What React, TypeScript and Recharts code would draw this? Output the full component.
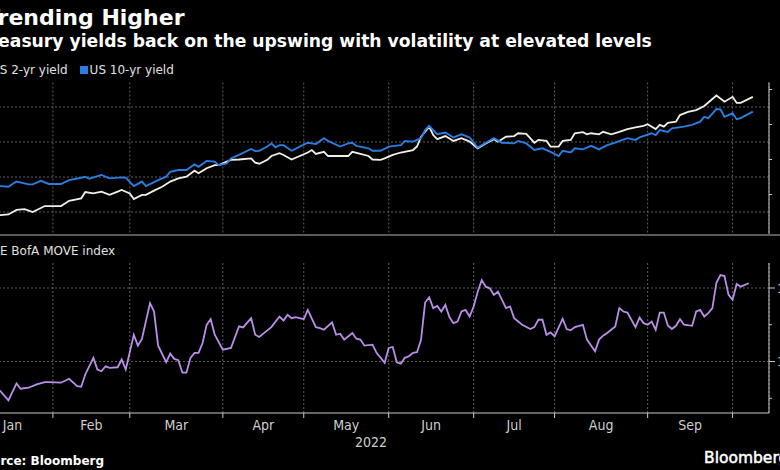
import React from "react";
import { LineChart, Line, XAxis, YAxis, CartesianGrid, ReferenceLine } from "recharts";

// x values are trading sessions counted from 3 Jan 2022
const monthStarts = [20, 39, 62, 82, 103, 124, 144, 167, 188];
const monthMids = [10, 29.5, 50.5, 72, 92.5, 113.5, 134, 155.5, 177.5];
const monthNames = ["Jan", "Feb", "Mar", "Apr", "May", "Jun", "Jul", "Aug", "Sep"];

const yieldTicks = [0.5, 1, 1.5, 2, 2.5, 3, 3.5, 4, 4.5];
const yieldLabels = [1, 2, 3, 4];
const moveTicks = [75, 100, 125, 150];
const moveLabels = [100, 150];

// [session, yield %]
const twoYr: [number, number][] = [
  [0, 0.78], [3, 0.86], [5, 0.88], [7, 0.91], [9, 0.93], [11, 1.06], [13, 1.08], [15, 1.0], [18, 1.17], [22, 1.17],
  [24, 1.32], [27, 1.39], [28, 1.57], [30, 1.53], [32, 1.58], [34, 1.49], [36, 1.58], [37, 1.63], [39, 1.53], [40, 1.37],
  [42, 1.49], [43, 1.49], [45, 1.61], [47, 1.72], [49, 1.87], [51, 1.96], [53, 2.01], [55, 2.18], [56, 2.11], [58, 2.25],
  [60, 2.34], [61, 2.34], [63, 2.44], [64, 2.49], [66, 2.5], [69, 2.53], [70, 2.41], [71, 2.38], [73, 2.49], [74, 2.6],
  [76, 2.68], [77, 2.63], [79, 2.5], [81, 2.6], [83, 2.7], [84, 2.77], [85, 2.66], [87, 2.72], [88, 2.6], [91, 2.6],
  [93, 2.6], [94, 2.72], [96, 2.66], [98, 2.6], [99, 2.5], [101, 2.49], [102, 2.53], [104, 2.63], [106, 2.7], [109, 2.77],
  [110, 2.87], [111, 3.15], [113, 3.44], [114, 3.2], [115, 3.08], [117, 3.17], [119, 3.03], [121, 3.11], [123, 3.01], [125, 2.82],
  [127, 2.96], [129, 3.08], [130, 3.01], [132, 3.15], [134, 3.17], [135, 3.25], [137, 3.23], [139, 2.98], [140, 3.06], [142, 3.03],
  [143, 2.87], [145, 2.87], [146, 3.03], [148, 3.06], [149, 3.25], [151, 3.28], [152, 3.22], [153, 3.25], [155, 3.22], [156, 3.29],
  [158, 3.22], [160, 3.29], [162, 3.37], [164, 3.42], [166, 3.46], [167, 3.51], [169, 3.37], [170, 3.49], [171, 3.44], [172, 3.55],
  [174, 3.58], [175, 3.77], [177, 3.86], [179, 3.91], [181, 4.03], [182, 4.13], [184, 4.33], [186, 4.15], [188, 4.29], [189, 4.12],
  [190, 4.12], [193, 4.29],
];

const tenYr: [number, number][] = [
  [0, 1.63], [3, 1.7], [5, 1.72], [7, 1.74], [9, 1.72], [11, 1.87], [14, 1.79], [15, 1.79], [17, 1.89], [19, 1.8],
  [22, 1.8], [24, 1.91], [27, 1.98], [28, 2.01], [29, 1.95], [32, 2.06], [34, 1.96], [37, 1.99], [38, 1.98], [40, 1.74],
  [42, 1.87], [43, 1.74], [46, 1.91], [48, 2.01], [49, 2.15], [51, 2.2], [53, 2.2], [55, 2.36], [56, 2.29], [58, 2.46],
  [60, 2.44], [61, 2.34], [63, 2.39], [64, 2.53], [66, 2.63], [69, 2.8], [70, 2.74], [71, 2.75], [73, 2.87], [74, 2.96],
  [75, 2.85], [76, 2.91], [77, 2.91], [79, 2.75], [81, 2.87], [83, 2.98], [85, 2.94], [87, 3.11], [88, 3.03], [91, 2.87],
  [93, 2.96], [94, 2.98], [95, 2.89], [98, 2.82], [99, 2.75], [101, 2.75], [103, 2.87], [106, 2.91], [107, 3.03], [109, 3.01],
  [111, 3.11], [112, 3.34], [113, 3.46], [114, 3.34], [115, 3.22], [117, 3.27], [119, 3.13], [121, 3.22], [123, 3.13], [125, 2.84],
  [127, 2.98], [129, 3.11], [131, 2.98], [134, 2.96], [135, 3.03], [137, 2.96], [139, 2.77], [141, 2.82], [143, 2.72], [145, 2.6],
  [146, 2.75], [148, 2.7], [149, 2.82], [151, 2.79], [153, 2.89], [155, 2.79], [157, 2.91], [159, 2.98], [162, 3.11], [164, 3.06],
  [165, 3.13], [168, 3.25], [169, 3.2], [170, 3.34], [172, 3.29], [173, 3.39], [176, 3.44], [178, 3.49], [180, 3.58], [181, 3.72],
  [182, 3.68], [184, 3.94], [185, 3.93], [186, 3.72], [188, 3.82], [189, 3.65], [190, 3.68], [193, 3.87],
];

// ICE BofA MOVE index
const move: [number, number][] = [
  [0, 78], [4, 82], [7, 79.9], [9, 73.6], [11, 85.1], [12, 81.5], [14, 82.2], [16, 84.5], [18, 86], [19, 86],
  [22, 85.6], [24, 88.3], [26, 83.3], [27, 82.9], [28, 91.2], [30, 102.5], [31, 94.6], [32, 93.4], [33, 96.8], [34, 95.7],
  [36, 96.1], [37, 101.4], [38, 94.6], [40, 118.2], [41, 110.8], [42, 115.3], [44, 139.7], [45, 134], [46, 110.8], [48, 99.5],
  [49, 105.4], [50, 101.8], [51, 100.9], [52, 92.4], [53, 92.4], [54, 102.5], [55, 105.9], [56, 105.9], [57, 112.6], [58, 125],
  [59, 128.8], [60, 118.2], [62, 108.1], [64, 109.2], [66, 123.9], [67, 123.2], [69, 129.5], [70, 118.2], [71, 116.7], [73, 121.2],
  [74, 123.4], [76, 130.6], [77, 127.9], [78, 131.8], [79, 129.5], [80, 130.2], [82, 128.8], [83, 135.1], [85, 123.4], [86, 122.7],
  [87, 121.6], [89, 126.6], [90, 118.2], [91, 118.9], [92, 114.9], [94, 119.4], [95, 115.5], [96, 114.9], [97, 110.8], [99, 111.5],
  [100, 105.9], [102, 99.1], [103, 109.2], [104, 109.9], [105, 99.5], [106, 98.6], [107, 102.5], [108, 103.6], [109, 105.9], [110, 106.3],
  [111, 114.9], [112, 140.1], [113, 143.7], [114, 136.3], [115, 137.8], [116, 134], [117, 138.5], [118, 130.2], [119, 126.1], [120, 127.2],
  [121, 134], [122, 135.1], [123, 130.6], [124, 137.4], [125, 147.5], [126, 155.4], [127, 150.9], [128, 149.8], [129, 145.3], [130, 147.5],
  [132, 136.3], [133, 137.4], [134, 129.5], [136, 125], [138, 122.1], [139, 123.4], [140, 128.4], [141, 128.4], [142, 118.2], [143, 119.8],
  [144, 117.1], [146, 129.1], [147, 122.1], [148, 121.2], [149, 123.4], [151, 125], [152, 114.9], [154, 107], [155, 114.9], [156, 117.6],
  [157, 119.4], [159, 123.9], [160, 136.3], [161, 134], [162, 133.3], [164, 123.4], [165, 129.9], [166, 126.1], [167, 125], [168, 127.2],
  [169, 121.6], [170, 133.3], [171, 133.3], [172, 124.5], [173, 122.1], [174, 124.3], [175, 128.8], [176, 125], [178, 124.3], [179, 134],
  [180, 135.1], [181, 130.6], [182, 132.9], [183, 136.3], [184, 153.6], [185, 158.8], [186, 158.1], [187, 145.3], [188, 141.9], [189, 152.7],
  [190, 150.9], [192, 153.2],
];

const toRows = (pts: [number, number][]) => pts.map(([t, v]) => ({ t, v }));

const GRID = "#5e5e5e";
const AXIS = "#c8c8c8";
const X_DOMAIN: [number, number] = [0, 197];
const CONDENSED = "'DejaVu Sans Condensed', 'DejaVu Sans', sans-serif";

function RightTick(props: any) {
  const { x, y, payload, labels } = props;
  const major = labels.includes(payload.value);
  return (
    <g>
      <line x1={x} x2={x + (major ? 6 : 3)} y1={y} y2={y} stroke={AXIS} strokeWidth={1} />
      {major && (
        <text x={x + 8} y={y + 4.5} fill="#d8d8d8" fontSize={13} fontFamily={CONDENSED}>
          {payload.value}
        </text>
      )}
    </g>
  );
}

const abs = (left: number, top: number, extra: React.CSSProperties = {}): React.CSSProperties => ({
  position: "absolute",
  left,
  top,
  whiteSpace: "nowrap",
  ...extra,
});

export default function App() {
  return (
    <div
      style={{
        position: "absolute",
        left: 0,
        top: 0,
        width: 780,
        height: 470,
        background: "#000",
        overflow: "hidden",
        fontFamily: "'DejaVu Sans', sans-serif",
        color: "#fff",
      }}
    >
      <div style={abs(-15, 7.4, { fontSize: 22, lineHeight: "22px", fontWeight: 700 })}>Trending Higher</div>
      <div style={abs(-20.2, 32.6, { fontSize: 17.2, lineHeight: "17.2px", fontWeight: 700 })}>
        Treasury yields back on the upswing with volatility at elevated levels
      </div>

      {/* legend */}
      <div style={abs(-19, 63.9, { fontSize: 12, lineHeight: "12px", color: "#e0e0e0", display: "flex", alignItems: "center" })}>
        <span style={{ width: 8, height: 8, background: "#f2efe6", marginRight: 2, display: "inline-block" }} />
        <span>US 2-yr yield</span>
        <span style={{ width: 8, height: 8, background: "#2a7de1", marginLeft: 12, marginRight: 2, display: "inline-block" }} />
        <span>US 10-yr yield</span>
      </div>

      {/* upper panel: yields */}
      <div style={abs(-60, 0)}>
        <LineChart width={869} height={235.75} margin={{ top: 82.5, right: 0, bottom: 0, left: 32 }}>
          <CartesianGrid horizontal={false} stroke={GRID} strokeDasharray="2 2" />
          <XAxis
            type="number"
            dataKey="t"
            domain={X_DOMAIN}
            ticks={monthStarts}
            allowDataOverflow
            tickFormatter={() => ""}
            tickLine={false}
            axisLine={false}
            height={1}
          />
          <YAxis
            orientation="right"
            type="number"
            domain={[0.35, 4.7]}
            allowDataOverflow
            ticks={yieldTicks}
            width={40}
            tickSize={0}
            tickMargin={0}
            tickLine={false}
            axisLine={{ stroke: AXIS }}
            tick={(p: any) => <RightTick {...p} labels={yieldLabels} />}
          />
          {yieldLabels.map((v) => (
            <ReferenceLine key={v} y={v} stroke={GRID} strokeDasharray="2 2" />
          ))}
          <Line data={toRows(twoYr)} dataKey="v" type="linear" stroke="#f2efe6" strokeWidth={1.8} dot={false} isAnimationActive={false} />
          <Line data={toRows(tenYr)} dataKey="v" type="linear" stroke="#2a7de1" strokeWidth={1.9} dot={false} isAnimationActive={false} />
        </LineChart>
      </div>

      {/* separator */}
      <div style={abs(0, 234, { width: 780, height: 2, background: "#5a5a5a" })} />

      <div style={abs(-12, 244.8, { fontSize: 12, lineHeight: "12px", color: "#e0e0e0" })}>ICE BofA MOVE index</div>

      {/* lower panel: MOVE */}
      <div style={abs(-60, 0)}>
        <LineChart width={869} height={448} margin={{ top: 263, right: 0, bottom: 0, left: 32 }}>
          <CartesianGrid horizontal={false} stroke={GRID} strokeDasharray="2 2" />
          <XAxis
            type="number"
            dataKey="t"
            domain={X_DOMAIN}
            ticks={monthStarts}
            allowDataOverflow
            tickFormatter={() => ""}
            tickSize={5}
            tickLine={{ stroke: AXIS }}
            axisLine={{ stroke: AXIS }}
            height={5}
          />
          <XAxis
            xAxisId="m"
            type="number"
            dataKey="t"
            domain={X_DOMAIN}
            ticks={monthMids}
            interval={0}
            allowDataOverflow
            tickFormatter={(v: number) => monthNames[monthMids.indexOf(v)]}
            tickSize={0}
            tickMargin={2}
            tickLine={false}
            axisLine={false}
            tick={{ fill: "#cfcfcf", fontSize: 14, fontFamily: CONDENSED }}
            height={30}
          />
          <YAxis
            orientation="right"
            type="number"
            domain={[65, 167]}
            allowDataOverflow
            ticks={moveTicks}
            width={40}
            tickSize={0}
            tickMargin={0}
            tickLine={false}
            axisLine={{ stroke: AXIS }}
            tick={(p: any) => <RightTick {...p} labels={moveLabels} />}
          />
          {moveLabels.map((v) => (
            <ReferenceLine key={v} y={v} stroke={GRID} strokeDasharray="2 2" />
          ))}
          {/* invisible series so the month-label axis gets a scale */}
          <Line xAxisId="m" data={toRows(move)} dataKey="v" stroke="none" dot={false} legendType="none" isAnimationActive={false} />
          <Line data={toRows(move)} dataKey="v" type="linear" stroke="#b98fe8" strokeWidth={1.8} dot={false} isAnimationActive={false} />
        </LineChart>
      </div>

      <div style={abs(355, 435, { fontSize: 14, lineHeight: "14px", color: "#cfcfcf", fontFamily: CONDENSED })}>2022</div>

      <div style={abs(-25, 454.8, { fontSize: 12, lineHeight: "12px", fontWeight: 700 })}>Source: Bloomberg</div>
      <div style={abs(704, 451, { fontSize: 15.5, lineHeight: "15.5px", fontWeight: 400, WebkitTextStroke: "0.5px #fff" })}>
        Bloomberg
      </div>
    </div>
  );
}
